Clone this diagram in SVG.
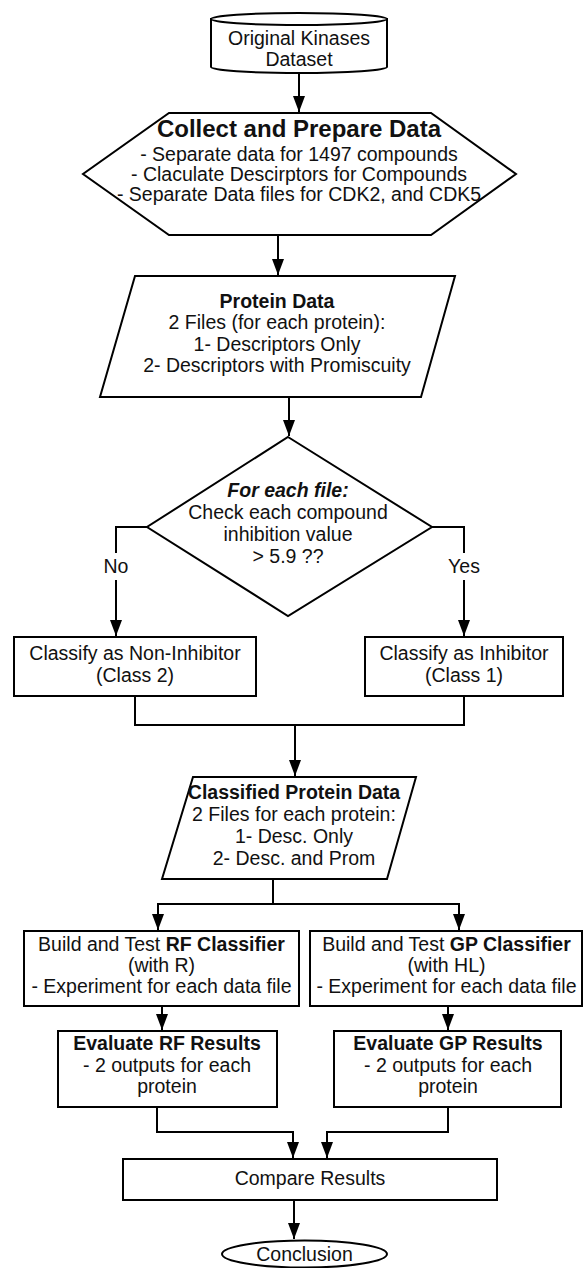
<svg xmlns="http://www.w3.org/2000/svg" width="584" height="1268" viewBox="0 0 584 1268">
<defs>
<marker id="ah" markerUnits="userSpaceOnUse" markerWidth="16" markerHeight="12" refX="16" refY="6" orient="auto">
<path d="M0,0 L16,6 L0,12 Z" fill="#000"/>
</marker>
<style>
.s{fill:#fff;stroke:#000;stroke-width:2;stroke-linejoin:miter}
.c{fill:none;stroke:#000;stroke-width:2}
.a{fill:none;stroke:#000;stroke-width:2;marker-end:url(#ah)}
text{font-family:"Liberation Sans",Arial,sans-serif;font-size:19.5px;fill:#111;text-anchor:middle}
.b{font-weight:bold}
.bi{font-weight:bold;font-style:italic}
.t{font-size:24px;font-weight:bold}
</style>
</defs>
<rect width="584" height="1268" fill="#fff"/>

<g id="connectors">
<path class="a" d="M299,73 L299,112"/>
<path class="a" d="M278,236 L278,275"/>
<path class="a" d="M289,398 L289,436"/>
<path class="c" d="M147,527 L116,527 L116,553"/>
<path class="a" d="M116,580 L116,636"/>
<path class="c" d="M432,527 L464,527 L464,553"/>
<path class="a" d="M464,580 L464,636"/>
<path class="c" d="M135,697 L135,725 L464,725 L464,697"/>
<path class="a" d="M295,725 L295,776"/>
<path class="c" d="M273,880 L273,904"/>
<path class="a" d="M273,904 L158,904 L158,930"/>
<path class="a" d="M273,904 L459,904 L459,930"/>
<path class="a" d="M162,1007 L162,1030"/>
<path class="a" d="M448,1007 L448,1030"/>
<path class="a" d="M157,1108 L157,1132 L293,1132 L293,1158"/>
<path class="a" d="M448,1108 L448,1132 L327,1132 L327,1158"/>
<path class="a" d="M294,1201 L294,1239"/>
<text x="116" y="573">No</text>
<text x="464" y="573">Yes</text>
</g>

<g id="dataset">
<path class="s" d="M211,19 L211,67 A88,6 0 0 0 387,67 L387,19 Z"/>
<ellipse class="s" cx="299" cy="19" rx="88" ry="6"/>
<text x="299" y="45">Original Kinases</text>
<text x="299" y="66">Dataset</text>
</g>

<g id="collect">
<path class="s" d="M169,113 L431,113 L516,174 L431,235 L169,235 L83,174 Z"/>
<text class="t" x="299" y="137">Collect and Prepare Data</text>
<text x="299" y="161">- Separate data for 1497 compounds</text>
<text x="299" y="181">- Claculate Descirptors for Compounds</text>
<text x="299" y="201">- Separate Data files for CDK2, and CDK5</text>
</g>

<g id="protein">
<path class="s" d="M135,276 L455,276 L421,397 L100,397 Z"/>
<text class="b" x="277" y="308">Protein Data</text>
<text x="277" y="329">2 Files (for each protein):</text>
<text x="277" y="351">1- Descriptors Only</text>
<text x="277" y="372">2- Descriptors with Promiscuity</text>
</g>

<g id="decision">
<path class="s" d="M288,437 L432,527 L288,616 L147,527 Z"/>
<text class="bi" x="288" y="497">For each file:</text>
<text x="288" y="519">Check each compound</text>
<text x="288" y="541">inhibition value</text>
<text x="288" y="563">&gt; 5.9 ??</text>
</g>

<g id="noninhibitor">
<rect class="s" x="14" y="637" width="242" height="59"/>
<text x="135" y="660">Classify as Non-Inhibitor</text>
<text x="135" y="682">(Class 2)</text>
</g>

<g id="inhibitor">
<rect class="s" x="365" y="637" width="198" height="59"/>
<text x="464" y="660">Classify as Inhibitor</text>
<text x="464" y="682">(Class 1)</text>
</g>

<g id="classified">
<path class="s" d="M193,777 L416,777 L387,879 L162,879 Z"/>
<text class="b" x="294" y="799">Classified Protein Data</text>
<text x="294" y="821">2 Files for each protein:</text>
<text x="294" y="843">1- Desc. Only</text>
<text x="294" y="865">2- Desc. and Prom</text>
</g>

<g id="rf">
<rect class="s" x="24" y="931" width="275" height="75"/>
<text x="161.5" y="951">Build and Test <tspan class="b">RF Classifier</tspan></text>
<text x="161.5" y="972">(with R)</text>
<text x="161.5" y="993">- Experiment for each data file</text>
</g>

<g id="gp">
<rect class="s" x="310" y="931" width="272" height="75"/>
<text x="446.5" y="951">Build and Test <tspan class="b">GP Classifier</tspan></text>
<text x="446.5" y="972">(with HL)</text>
<text x="446.5" y="993">- Experiment for each data file</text>
</g>

<g id="evalrf">
<rect class="s" x="58" y="1031" width="219" height="76"/>
<text class="b" x="167" y="1050">Evaluate RF Results</text>
<text x="167" y="1072">- 2 outputs for each</text>
<text x="167" y="1093">protein</text>
</g>

<g id="evalgp">
<rect class="s" x="334" y="1031" width="227" height="76"/>
<text class="b" x="448" y="1050">Evaluate GP Results</text>
<text x="448" y="1072">- 2 outputs for each</text>
<text x="448" y="1093">protein</text>
</g>

<g id="compare">
<rect class="s" x="123" y="1159" width="374" height="41"/>
<text x="310" y="1185">Compare Results</text>
</g>

<g id="conclusion">
<ellipse class="s" cx="304.5" cy="1254" rx="82.5" ry="13.5"/>
<text x="304.5" y="1261">Conclusion</text>
</g>
</svg>
